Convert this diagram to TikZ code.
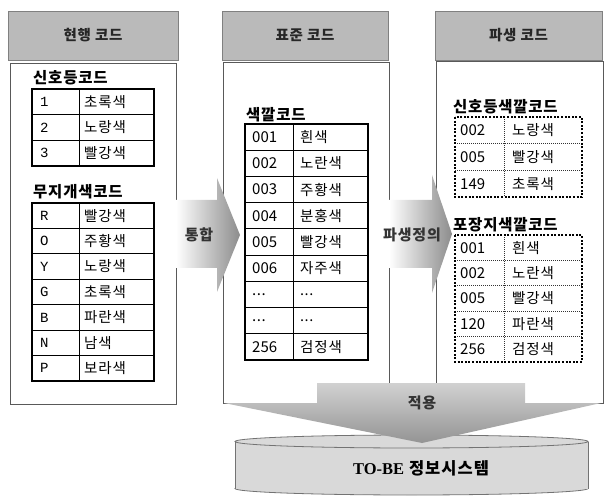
\documentclass[tikz,border=0pt]{standalone}
\usepackage{fontspec}
\newfontfamily\kr{Noto Sans CJK KR}
\newfontfamily\krs{Noto Sans CJK KR}[LetterSpace=6]
\newfontfamily\krt{Noto Sans CJK KR}[LetterSpace=5]
\newfontfamily\monof{Liberation Mono}
\newfontfamily\serf{Liberation Serif}
\newcommand\myellip{.\kern0.5pt.\kern0.5pt.}
\tikzset{
 panel/.style={draw=black!65, line width=0.8pt},
 hdr/.style={draw=black!50, fill=black!27, line width=0.9pt, font=\krt\bfseries\fontsize{14.5}{16}\selectfont, text=black!85},
 ttl/.style={font=\krt\bfseries\fontsize{15.5}{18}\selectfont, anchor=west, inner sep=0},
 ktxt/.style={font=\krs\fontsize{14.5}{16}\selectfont, anchor=west, inner sep=0},
 mtxt/.style={font=\monof\fontsize{14}{16}\selectfont, anchor=west, inner sep=0},
 ntxt/.style={font=\kr\fontsize{15}{16}\selectfont, anchor=west, inner sep=0},
 solidout/.style={draw=black, line width=2pt},
 solidin/.style={draw=black, line width=0.8pt},
 dotout/.style={draw=black, line width=2.2pt, dash pattern=on 2pt off 1.6pt},
 dotin/.style={draw=black!80, line width=0.7pt, dash pattern=on 1pt off 1pt},
 arrtxt/.style={font=\krs\bfseries\fontsize{15}{16}\selectfont, text=black!80},
 cylstyle/.style={fill=black!15, draw=black!55, line width=0.8pt},
}
\begin{document}
\begin{tikzpicture}[x=1pt,y=-1pt]
\useasboundingbox (0,0) rectangle (607,502);
% headers
\node[hdr, minimum width=170, minimum height=49] (h1) at (93,35.5) {현행 코드};
\node[hdr, minimum width=166, minimum height=49] (h2) at (305,35.5) {표준 코드};
\node[hdr, minimum width=167, minimum height=49] (h3) at (518.5,35.5) {파생 코드};
% panels
\draw[panel] (10,63) rectangle (176,404);
\draw[panel] (223,62) rectangle (389,403);
\draw[panel] (436,61) rectangle (603,403);

% left table 1
\node[ttl] (t1) at (33,78) {신호등코드};
\draw[solidout] (32,89) rectangle (154,166);
\draw[solidin] (79,89) -- (79,166);
\foreach \i in {1,2} \draw[solidin] (32,{89+\i*25.67}) -- (154,{89+\i*25.67});
\foreach \c/\k [count=\i] in {1/초록색,2/노랑색,3/빨강색}{
 \node[mtxt] (sa\i) at (40,{89+(\i-0.5)*25.67}) {\c};
 \node[ktxt] (sk\i) at (84,{89+(\i-0.5)*25.67}) {\k};
}
% left table 2
\node[ttl] (t2) at (33,192) {무지개색코드};
\draw[solidout] (32,203) rectangle (154,381);
\draw[solidin] (79,203) -- (79,381);
\foreach \i in {1,2,3,4,5,6} \draw[solidin] (32,{203+\i*25.43}) -- (154,{203+\i*25.43});
\foreach \c/\k [count=\i] in {R/빨강색,O/주황색,Y/노랑색,G/초록색,B/파란색,N/남색,P/보라색}{
 \node[mtxt] (ra\i) at (40,{203+(\i-0.5)*25.43}) {\c};
 \node[ktxt] (rk\i) at (84,{203+(\i-0.5)*25.43}) {\k};
}
% middle table
\node[ttl] (t3) at (246,115) {색깔코드};
\draw[solidout] (245,124) rectangle (368,360);
\draw[solidin] (293,124) -- (293,360);
\foreach \i in {1,2,3,4,5,6,7,8} \draw[solidin] (245,{124+\i*26.22}) -- (368,{124+\i*26.22});
\foreach \c/\k [count=\i] in {001/흰색,002/노란색,003/주황색,004/분홍색,005/빨강색,006/자주색,\myellip/\myellip,\myellip/\myellip,256/검정색}{
 \node[ntxt] (ma\i) at (252,{124+(\i-0.5)*26.22}) {\c};
 \node[ktxt] (mk\i) at (300,{124+(\i-0.5)*26.22}) {\k};
}
% right table 1
\node[ttl] (t4) at (453,107) {신호등색깔코드};
\draw[dotin] (504,117) -- (504,197);
\foreach \i in {1,2} \draw[dotin] (455,{117+\i*26.67}) -- (582,{117+\i*26.67});
\draw[dotout] (455,117) rectangle (582,197);
\foreach \c/\k [count=\i] in {002/노랑색,005/빨강색,149/초록색}{
 \node[ntxt] (pa\i) at (460,{117+(\i-0.5)*26.67}) {\c};
 \node[ktxt] (pk\i) at (512,{117+(\i-0.5)*26.67}) {\k};
}
% right table 2
\node[ttl] (t5) at (453,225) {포장지색깔코드};
\draw[dotin] (504,235) -- (504,362);
\foreach \i in {1,2,3,4} \draw[dotin] (455,{235+\i*25.4}) -- (582,{235+\i*25.4});
\draw[dotout] (455,235) rectangle (582,362);
\foreach \c/\k [count=\i] in {001/흰색,002/노란색,005/빨강색,120/파란색,256/검정색}{
 \node[ntxt] (qa\i) at (460,{235+(\i-0.5)*25.4}) {\c};
 \node[ktxt] (qk\i) at (512,{235+(\i-0.5)*25.4}) {\k};
}

% horizontal arrows
\path[left color=white, right color=black!45] (176,200) -- (217,200) -- (217,178) -- (240,235) -- (217,292) -- (217,268) -- (176,268) -- cycle;
\node[arrtxt] (lbl1) at (199,235) {통합};
\path[left color=white, right color=black!45] (389,200) -- (432,200) -- (432,175) -- (452,234) -- (432,293) -- (432,268) -- (389,268) -- cycle;
\node[arrtxt] (lbl2) at (412,235) {파생정의};

% cylinder
\draw[cylstyle] (411.5,488.5) ellipse [x radius=176.5, y radius=6.5];
\fill[black!15] (235,441.5) rectangle (588,488.5);
\draw[draw=black!55, line width=0.8pt] (235,441.5) -- (235,488.5) (588,441.5) -- (588,488.5);
\draw[cylstyle] (411.5,441.5) ellipse [x radius=176.5, y radius=6.5];
\node[font=\fontsize{16.5}{18}\selectfont] (tobe) at (421,468) {{\serf\bfseries TO-BE} {\krs\bfseries 정보시스템}};

% down arrow
\path[top color=black!18, bottom color=black!42] (317,383) -- (525,383) -- (525,403) -- (601,403) -- (422,443) -- (224,403) -- (317,403) -- cycle;
\node[arrtxt] (lbl3) at (422,403) {적용};
\end{tikzpicture}
\end{document}
